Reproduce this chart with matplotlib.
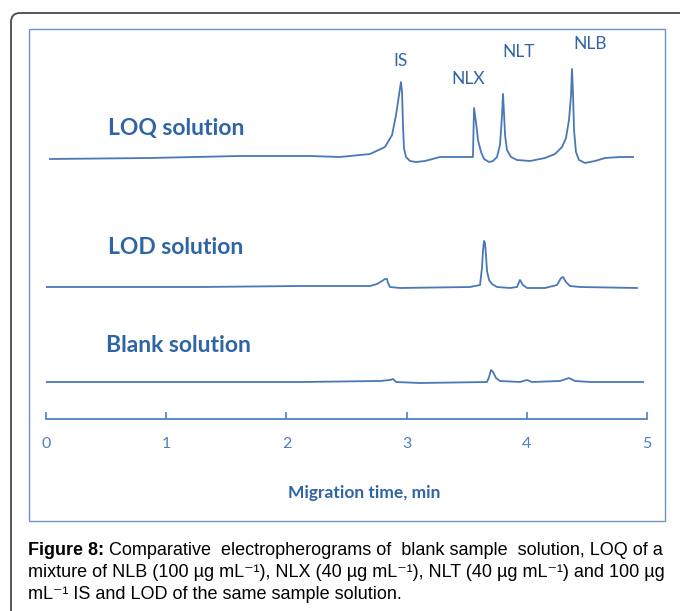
import matplotlib.pyplot as plt
from matplotlib.patches import Rectangle, FancyBboxPatch
from matplotlib.transforms import IdentityTransform

# electropherograms (time in min, signal relative to baseline)
loq_t = [0.033, 0.865, 1.614, 2.196, 2.446, 2.696, 2.820, 2.879, 2.912, 2.937, 2.953, 2.962, 2.970,
         2.978, 2.995, 3.028, 3.078, 3.153, 3.278, 3.444, 3.552, 3.561, 3.577, 3.594, 3.619, 3.644,
         3.686, 3.719, 3.752, 3.777, 3.794, 3.802, 3.810, 3.819, 3.835, 3.869, 3.918, 4.027, 4.151,
         4.235, 4.293, 4.326, 4.351, 4.368, 4.376, 4.384, 4.393, 4.409, 4.434, 4.484, 4.567, 4.651,
         4.775, 4.884]
loq_s = [-1, 0, 2, 2, 1, 4, 11, 23, 43, 63, 76, 66, 33,
         10, 1, -3, -4, -3, 1, 1, 1, 50, 36, 18, 6, -1,
         -4, -3, 1, 13, 43, 64, 46, 23, 8, 1, -2, -3, 0,
         4, 11, 20, 38, 63, 89, 66, 28, 6, -2, -5, -3, 0,
         1, 1]

lod_t = [-0.008, 1.281, 2.113, 2.696, 2.754, 2.795, 2.820, 2.837, 2.845, 2.862, 2.945, 3.527, 3.611,
         3.627, 3.636, 3.644, 3.652, 3.661, 3.669, 3.686, 3.710, 3.752, 3.860, 3.918, 3.943, 3.968,
         4.002, 4.151, 4.251, 4.285, 4.301, 4.326, 4.359, 4.443, 4.917]
lod_s = [0, 0, 1, 1, 3, 6, 8, 8, 4, 0, -1, 0, 2,
         19, 37, 46, 44, 31, 16, 7, 3, 0, -1, 0, 7, 2,
         -1, -1, 2, 9, 10, 5, 1, 0, -1]

blank_t = [-0.008, 2.113, 2.779, 2.862, 2.887, 2.912, 3.112, 3.669, 3.686, 3.702, 3.719, 3.744,
           3.777, 3.943, 4.002, 4.043, 4.276, 4.351, 4.401, 4.526, 4.967]
blank_s = [0, 0, 1, 2, 3, 0, -1, 0, 5, 12, 10, 4,
           1, 0, 2, 0, 1, 4, 1, 0, 0]

trace_names = ["LOQ solution", "LOD solution", "Blank solution"]
trace_offsets = [261, 132, 37]

peak_names = ["IS", "NLX", "NLT", "NLB"]
peak_t = [2.953, 3.511, 3.935, 4.526]
peak_y = [358, 340, 367, 375]

xticks = [0, 1, 2, 3, 4, 5]

line_col = "#4a78b6"
text_col = "#2f65a6"
axis_col = "#4f80c2"

W, H = 680, 611
fig = plt.figure(figsize=(W / 100, H / 100), dpi=100)

# outer rounded frame and inner chart frame
fig.patches.append(FancyBboxPatch((11, -30), 720, H - 13 + 30,
                                  boxstyle="round,pad=0,rounding_size=9",
                                  transform=IdentityTransform(), fill=False,
                                  ec="#4a4a4a", lw=1.3))
fig.patches.append(Rectangle((29 / W, 1 - 521 / H), (665 - 29) / W, (521 - 29) / H,
                             transform=fig.transFigure, fill=False, ec="#6f93c9", lw=1.0))

ax = fig.add_axes([46 / W, 1 - 419 / H, 601 / W, 400 / H])
ax.patch.set_visible(False)

for t, s, off in zip([loq_t, lod_t, blank_t], [loq_s, lod_s, blank_s], trace_offsets):
    ax.plot(t, [v + off for v in s], color=line_col, lw=1.3, solid_joinstyle="round")

label_x = [0.516, 0.516, 0.499]
label_y = [291, 171, 74]
for name, ly, lx in zip(trace_names, label_y, label_x):
    ax.text(lx, ly, name, fontsize=16.5, fontweight="bold", color=text_col,
            family="Lato", ha="left", va="center")

for name, t, y in zip(peak_names, peak_t, peak_y):
    ax.text(t, y, name, fontsize=12.5, color=text_col, family="Lato", ha="center", va="center")

ax.set_xlim(0, 5)
ax.set_ylim(0, 400)
for sp in ["top", "left", "right"]:
    ax.spines[sp].set_visible(False)
ax.spines["bottom"].set_color(axis_col)
ax.spines["bottom"].set_linewidth(1.3)
ax.set_yticks([])
ax.set_xticks(xticks)
ax.tick_params(axis="x", direction="in", length=5, width=1.2, color=axis_col,
               labelcolor=axis_col, labelsize=11.5, pad=13)
for lab in ax.get_xticklabels():
    lab.set_family("Lato")
ax.set_xlabel("Migration time, min", fontsize=12.5, fontweight="bold", color=text_col,
              family="Lato")
ax.xaxis.set_label_coords(0.529, -0.165)

# caption
cap_font = ["Liberation Sans", "DejaVu Sans"]
cap_size = 13
cx = 28 / W
t1 = fig.text(cx, 1 - 555 / H, "Figure 8:", fontsize=cap_size, fontweight="bold",
              family=cap_font, va="baseline", ha="left")
ax.annotate(" Comparative  electropherograms of  blank sample  solution, LOQ of a",
            xy=(1, 0), xycoords=t1, va="bottom", ha="left", fontsize=cap_size,
            family=cap_font, annotation_clip=False)
sup = "\u207b\u00b9"
fig.text(cx, 1 - 577 / H,
         "mixture of NLB (100 µg mL" + sup + "), NLX (40 µg mL" + sup + "), NLT (40 µg mL" + sup + ") and 100 µg",
         fontsize=cap_size, family=cap_font, va="baseline", ha="left")
fig.text(cx, 1 - 599 / H, "mL" + sup + " IS and LOD of the same sample solution.",
         fontsize=cap_size, family=cap_font, va="baseline", ha="left")

fig.savefig("out.png", dpi=100)
